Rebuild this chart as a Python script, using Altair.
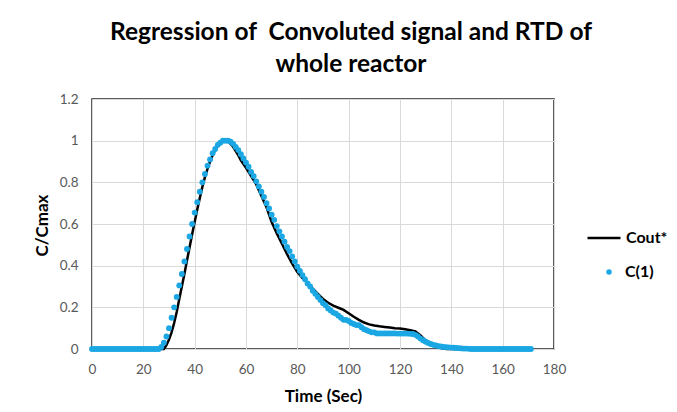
import altair as alt
import pandas as pd

# C(1) measured points (1 s step, t = 0 .. 171)
c1_values = [
    0, 0, 0, 0, 0, 0, 0, 0, 0, 0,
    0, 0, 0, 0, 0, 0, 0, 0, 0, 0,
    0, 0, 0, 0, 0, 0, 0, 0.01, 0.03, 0.06,
    0.10, 0.15, 0.20, 0.25, 0.305, 0.36, 0.42, 0.48, 0.54, 0.60,
    0.655, 0.705, 0.755, 0.80, 0.84, 0.88, 0.91, 0.94, 0.96, 0.98,
    0.99, 1.00, 1.00, 1.00, 0.995, 0.985, 0.97, 0.955, 0.935, 0.915,
    0.895, 0.875, 0.85, 0.83, 0.805, 0.78, 0.755, 0.73, 0.70, 0.675,
    0.645, 0.62, 0.59, 0.565, 0.54, 0.515, 0.49, 0.47, 0.445, 0.42,
    0.395, 0.375, 0.355, 0.335, 0.315, 0.30, 0.28, 0.265, 0.25, 0.235,
    0.22, 0.21, 0.195, 0.185, 0.175, 0.17, 0.16, 0.15, 0.14, 0.14,
    0.135, 0.125, 0.12, 0.115, 0.115, 0.105, 0.095, 0.09, 0.085, 0.08,
    0.08, 0.075, 0.075, 0.075, 0.075, 0.075, 0.075, 0.075, 0.075, 0.074,
    0.074, 0.074, 0.074, 0.074, 0.073, 0.072, 0.068, 0.06, 0.05, 0.042,
    0.035, 0.029, 0.024, 0.02, 0.017, 0.014, 0.012, 0.01, 0.009, 0.008,
    0.007, 0.006, 0.005, 0.004, 0.003, 0.002, 0.002, 0.001, 0, 0,
    0, 0, 0, 0, 0, 0, 0, 0, 0, 0,
    0, 0, 0, 0, 0, 0, 0, 0, 0, 0,
    0, 0,
]
c1_times = list(range(len(c1_values)))

# Cout* fitted curve
cout_times = [
    0, 28, 29, 30, 31, 32, 33, 34, 35, 36, 37, 38, 39, 40, 41, 42, 43, 44, 45,
    46, 47, 48, 49, 50, 51, 52, 53, 54, 55, 56, 57, 58, 60, 62, 64, 66, 68,
    70, 72, 74, 76, 78, 80, 82, 84, 86, 88, 90, 92, 94, 96, 98, 100, 102,
    104, 106, 108, 110, 112, 114, 116, 118, 120, 122, 124, 126, 128, 130,
    132, 134, 136, 138, 171,
]
cout_values = [
    0, 0, 0.018, 0.045, 0.08, 0.125, 0.178, 0.24, 0.30, 0.36, 0.425, 0.487,
    0.55, 0.61, 0.67, 0.725, 0.778, 0.825, 0.865, 0.90, 0.93, 0.955, 0.975,
    0.99, 1.0, 1.0, 0.995, 0.985, 0.97, 0.95, 0.93, 0.905, 0.87, 0.83, 0.79,
    0.735, 0.68, 0.61, 0.555, 0.505, 0.455, 0.41, 0.37, 0.34, 0.315, 0.29,
    0.265, 0.24, 0.222, 0.208, 0.198, 0.188, 0.172, 0.155, 0.14, 0.127,
    0.118, 0.113, 0.109, 0.106, 0.103, 0.10, 0.098, 0.095, 0.09, 0.085,
    0.065, 0.04, 0.02, 0.01, 0.005, 0, 0,
]

x_ticks = [0, 20, 40, 60, 80, 100, 120, 140, 160, 180]
y_ticks = [0, 0.2, 0.4, 0.6, 0.8, 1.0, 1.2]

c1_df = pd.DataFrame({"t": c1_times, "v": c1_values, "series": "C(1)"})
cout_df = pd.DataFrame({"t": cout_times, "v": cout_values, "series": "Cout*"})

FONT = "Lato"
BLUE = "#1AA7E3"

x_enc = alt.X(
    "t:Q",
    scale=alt.Scale(domain=[0, 180], nice=False),
    axis=alt.Axis(
        values=x_ticks, title="Time (Sec)", grid=True, ticks=False, domain=False,
        labelPadding=13, labelFlush=False, titleX=231, titleY=47,
        titleBaseline="middle",
    ),
)
y_enc = alt.Y(
    "v:Q",
    scale=alt.Scale(domain=[0, 1.2], nice=False),
    axis=alt.Axis(
        values=y_ticks, format="~g", title="C/Cmax", grid=True, ticks=False,
        domain=False, labelPadding=14, labelFlush=False, titleX=-50, titleY=126,
        titleAlign="center", titleBaseline="middle", titleAngle=-90,
    ),
)

line = alt.Chart(cout_df).mark_line(strokeWidth=2.5, color="black").encode(
    x=x_enc,
    y=y_enc,
    color=alt.Color(
        "series:N",
        scale=alt.Scale(domain=["Cout*"], range=["black"]),
        legend=alt.Legend(
            title=None, orient="none", legendX=494, legendY=121,
            symbolType="stroke", symbolSize=1089, symbolStrokeWidth=2.5,
            labelOffset=4, padding=0,
        ),
    ),
)

points = alt.Chart(c1_df).mark_circle(size=34, opacity=1).encode(
    x=x_enc,
    y=y_enc,
    fill=alt.Fill(
        "series:N",
        scale=alt.Scale(domain=["C(1)"], range=[BLUE]),
        legend=alt.Legend(
            title=None, orient="none", legendX=509, legendY=165,
            symbolType="circle", symbolSize=30, labelOffset=8, padding=0,
        ),
    ),
)

chart = (
    alt.layer(line, points)
    .resolve_scale(color="independent", fill="independent")
    .properties(
        width=462,
        height=250,
        autosize=alt.AutoSizeParams(type="none"),
        padding={"left": 84, "top": 91, "right": 115, "bottom": 55},
        title=alt.TitleParams(
            text=["Regression of\u00a0 Convoluted signal and RTD of", "whole reactor"],
            font=FONT, fontSize=24.5, fontWeight="bold", color="black",
            anchor="middle", dx=28, offset=15, lineHeight=32,
        ),
    )
    .configure_view(stroke="#262626", strokeWidth=1.5)
    .configure_axis(
        labelFont=FONT, labelFontSize=13.5, labelColor="#595959",
        titleFont=FONT, titleFontSize=17, titleFontWeight="bold", titleColor="black",
        gridColor="#D9D9D9", gridWidth=1,
    )
    .configure_legend(
        labelFont=FONT, labelFontSize=16, labelFontWeight="bold", labelColor="black",
    )
)

chart.save("out.html", embed_options={"renderer": "svg", "actions": False})
